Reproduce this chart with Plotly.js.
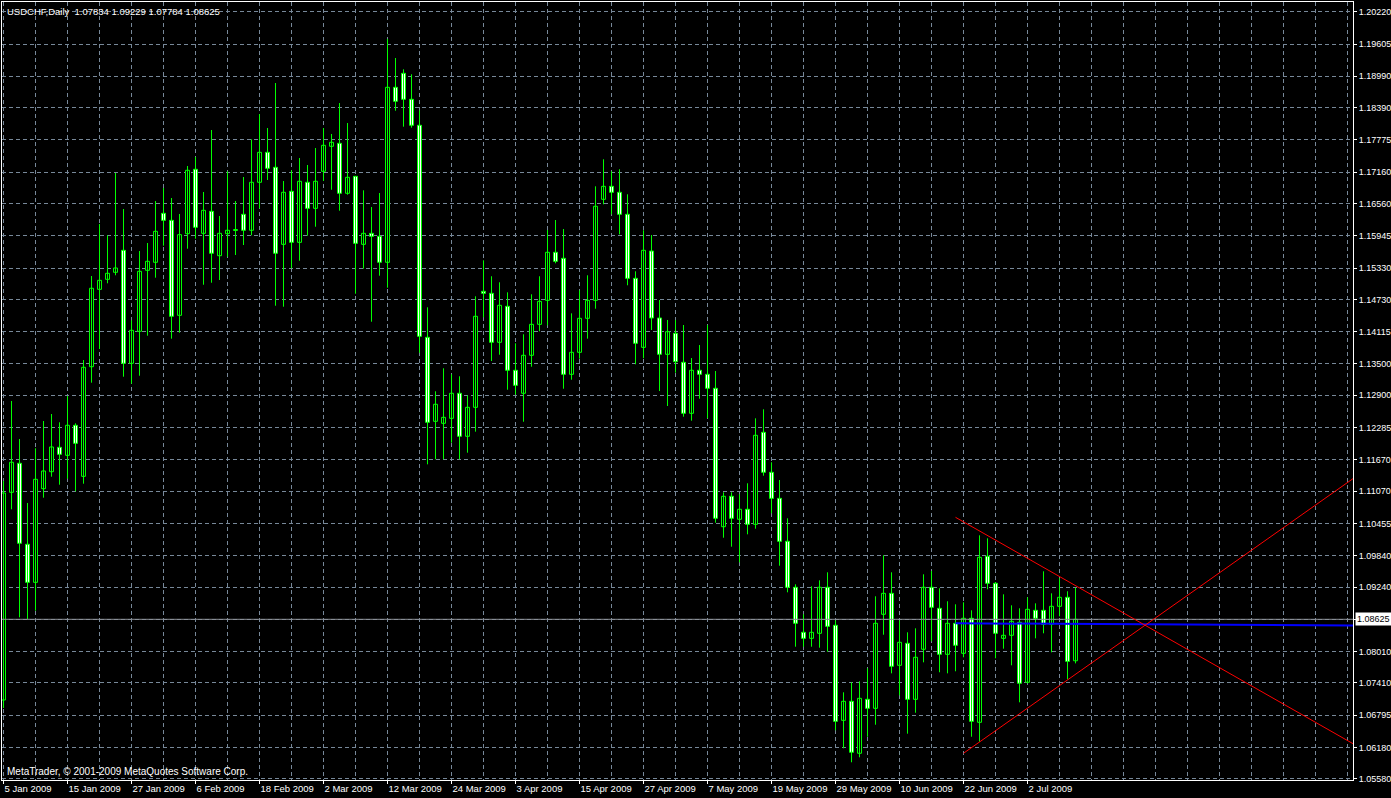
<!DOCTYPE html>
<html><head><meta charset="utf-8">
<script src="https://cdn.plot.ly/plotly-3.0.1.min.js"></script>
<style>html,body{margin:0;padding:0;background:#000;overflow:hidden}#chart{width:1391px;height:798px}</style>
</head><body><div id="chart"></div>
<script>
const symbolTitle = 'USDCHF,Daily \u00a01.07834 1.09229 1.07784 1.08625';
const copyright = 'MetaTrader, \u00a9 2001-2009 MetaQuotes Software Corp.';

const openP = [1.07085,1.11049,1.11603,1.10057,1.09331,1.11118,1.11442,1.11908,1.11755,1.12328,
1.11354,1.13446,1.14923,1.15114,1.15248,1.15668,1.13511,1.14122,1.15286,1.15439,
1.16374,1.16240,1.14427,1.15985,1.17214,1.15992,1.16412,1.15565,1.15985,1.16046,
1.16355,1.16050,1.16966,1.17538,1.17252,1.15782,1.16794,1.15820,1.16966,1.16469,
1.17176,1.17653,1.17710,1.16756,1.17080,1.15782,1.15992,1.15935,1.15439,1.18779,
1.19046,1.18550,1.18054,1.14007,1.12404,1.12366,1.12461,1.12939,1.12118,1.12671,
1.14885,1.14847,1.13912,1.14599,1.13378,1.12939,1.13664,1.14255,1.14713,1.15630,
1.15515,1.13301,1.13721,1.14370,1.14713,1.16641,1.16889,1.16775,1.16355,1.15133,
1.13816,1.15654,1.14376,1.13683,1.14084,1.13530,1.12557,1.13378,1.13301,1.13034,
1.10392,1.10973,1.10534,1.10725,1.10438,1.12194,1.11431,1.10934,1.10114,1.09236,
1.08377,1.08262,1.08358,1.09236,1.08511,1.06697,1.07060,1.06068,1.07098,1.06926,
1.08721,1.09121,1.07747,1.08167,1.07098,1.08053,1.09236,1.08835,1.07957,1.08549,
1.07976,1.08644,1.06659,1.09828,1.09312,1.08262,1.08320,1.08568,1.07423,1.08797,
1.08797,1.08530,1.08873,1.09045,1.07834];
const highP = [1.11265,1.12792,1.12066,1.10845,1.11889,1.12410,1.12543,1.12385,1.12887,1.12366,
1.13574,1.15177,1.16170,1.15954,1.17143,1.16456,1.14332,1.15654,1.15807,1.16609,
1.16857,1.16666,1.16361,1.17277,1.17449,1.16781,1.17964,1.16322,1.17176,1.16609,
1.17067,1.17786,1.18269,1.18002,1.18861,1.16990,1.17195,1.17429,1.17296,1.17620,
1.18002,1.17888,1.18479,1.18097,1.17086,1.16813,1.16494,1.16761,1.19701,1.19338,
1.19122,1.19027,1.18340,1.14580,1.12977,1.13416,1.13301,1.13263,1.12900,1.14790,
1.15477,1.15172,1.15057,1.14866,1.13893,1.14065,1.14828,1.15172,1.16055,1.16246,
1.16074,1.14465,1.14904,1.15191,1.16889,1.17405,1.17176,1.17214,1.16737,1.15267,
1.16050,1.15960,1.14719,1.14338,1.14338,1.14242,1.13612,1.13860,1.14242,1.13364,
1.11049,1.11049,1.11011,1.11221,1.12461,1.12633,1.11622,1.11284,1.10553,1.09293,
1.08721,1.09255,1.09369,1.09522,1.08606,1.07232,1.07423,1.07442,1.07690,1.09064,
1.09847,1.09522,1.08606,1.08377,1.08453,1.09484,1.09547,1.09217,1.08969,1.08911,
1.08950,1.08797,1.10228,1.10171,1.09337,1.09102,1.08892,1.08835,1.09045,1.08930,
1.09541,1.09121,1.09408,1.09160,1.09229];
const lowP = [1.06932,1.10725,1.08663,1.08625,1.08789,1.10946,1.11347,1.11194,1.11309,1.11068,
1.11213,1.13141,1.13784,1.15038,1.15191,1.13255,1.13122,1.13274,1.14038,1.15145,
1.15756,1.13981,1.14095,1.15698,1.15889,1.15011,1.15049,1.15101,1.15546,1.15578,
1.15769,1.15954,1.16469,1.17010,1.14610,1.14591,1.15324,1.15469,1.15946,1.16118,
1.16990,1.16824,1.16424,1.16729,1.14839,1.15317,1.14305,1.15183,1.14954,1.18332,
1.18027,1.18008,1.13713,1.11583,1.11679,1.11679,1.11996,1.11679,1.11805,1.12206,
1.14389,1.13555,1.13675,1.13007,1.12912,1.12396,1.13446,1.14122,1.14236,1.15420,
1.13026,1.13198,1.13599,1.13981,1.14553,1.16546,1.16355,1.15973,1.15000,1.13492,
1.13607,1.14147,1.12982,1.12696,1.13332,1.12492,1.12416,1.12835,1.12461,1.10469,
1.10182,1.10011,1.09713,1.10247,1.10354,1.11366,1.10648,1.09648,1.09140,1.08102,
1.08102,1.08102,1.08083,1.08007,1.06507,1.06163,1.05896,1.05991,1.06384,1.06613,
1.08331,1.07594,1.07175,1.06442,1.06842,1.07804,1.08205,1.07614,1.07594,1.07633,
1.07900,1.06384,1.06289,1.09198,1.07881,1.08064,1.07747,1.07041,1.07404,1.08262,
1.08358,1.07995,1.08682,1.07480,1.07784];
const closeP = [1.11036,1.11622,1.10076,1.09331,1.11297,1.11456,1.11914,1.11774,1.12328,1.11984,
1.13435,1.14943,1.15095,1.15229,1.15330,1.13511,1.14141,1.15267,1.15458,1.16030,
1.16240,1.14408,1.15966,1.17195,1.16107,1.16431,1.15611,1.15992,1.16050,1.16065,
1.16050,1.16966,1.17538,1.17233,1.15611,1.16775,1.15820,1.16985,1.16469,1.16985,
1.17672,1.17729,1.16756,1.17061,1.15801,1.15992,1.15935,1.15439,1.18779,1.18512,
1.18550,1.18054,1.14026,1.12385,1.12729,1.12480,1.12939,1.12118,1.12671,1.14408,
1.14847,1.13912,1.14618,1.13378,1.13091,1.13664,1.14255,1.14694,1.15630,1.15458,
1.13301,1.13721,1.14370,1.14713,1.16508,1.16889,1.16775,1.16355,1.15133,1.13893,
1.15668,1.14376,1.13683,1.14114,1.13542,1.12557,1.13378,1.13301,1.13034,1.10553,
1.10973,1.10553,1.10725,1.10438,1.12137,1.11431,1.10934,1.10114,1.09236,1.08549,
1.08262,1.08377,1.09236,1.08491,1.06678,1.07060,1.06087,1.07117,1.06926,1.08549,
1.09121,1.07728,1.08186,1.07098,1.07900,1.09236,1.08854,1.07957,1.08549,1.08129,
1.08644,1.06678,1.09808,1.09312,1.08358,1.08320,1.08587,1.07404,1.08816,1.08644,
1.08530,1.08873,1.09045,1.07823,1.08625];

const priceTickLabels = ['1.20220','1.19605','1.18990','1.18390','1.17775','1.17160','1.16560','1.15945',
'1.15330','1.14730','1.14115','1.13500','1.12900','1.12285','1.11670','1.11070','1.10455','1.09840',
'1.09240','1.08625','1.08010','1.07410','1.06795','1.06180','1.05580'];
const dateLabels = ['5 Jan 2009','15 Jan 2009','27 Jan 2009','6 Feb 2009','18 Feb 2009','2 Mar 2009',
'12 Mar 2009','24 Mar 2009','3 Apr 2009','15 Apr 2009','27 Apr 2009','7 May 2009','19 May 2009',
'29 May 2009','10 Jun 2009','22 Jun 2009','2 Jul 2009'];
const dateTickIdx = [0,8,16,24,32,40,48,56,64,72,80,88,96,104,112,120,128];

const bidPrice = 1.08625;
const redLineA = {idx:[119, 168.69], price:[1.10572, 1.06251]};
const redLineB = {idx:[120, 168.69], price:[1.06068, 1.11310]};
const blueLine = {idx:[119, 168.69], price:[1.08549, 1.08507]};

const GREEN = '#00ff00', GRID = '#778899';
const n = openP.length;
const wx = [], wy = [];
const bullX = [], bullB = [], bullH = [], bearX = [], bearB = [], bearH = [];
for (let i = 0; i < n; i++) {
  wx.push(i, i, null); wy.push(highP[i], lowP[i], null);
  const o = openP[i], c = closeP[i];
  if (c >= o) { bullX.push(i); bullB.push(o); bullH.push(Math.max(c - o, 0.00001)); }
  else { bearX.push(i); bearB.push(c); bearH.push(o - c); }
}

const traces = [
  {type:'scatter', mode:'lines', x:wx, y:wy, line:{color:GREEN, width:1}, hoverinfo:'skip'},
  {type:'bar', x:bullX, base:bullB, y:bullH, width:0.5, marker:{color:'#000', line:{color:GREEN, width:1}}, hoverinfo:'skip'},
  {type:'bar', x:bearX, base:bearB, y:bearH, width:0.5, marker:{color:'#fff', line:{color:GREEN, width:1}}, hoverinfo:'skip'}
];

const FONT = '"Liberation Sans",Arial,sans-serif';
const layout = {
  width:1391, height:798,
  margin:{l:2, r:38, t:2, b:18, pad:0},
  paper_bgcolor:'#000', plot_bgcolor:'#000',
  showlegend:false, barmode:'overlay', bargap:0,
  font:{family:FONT, size:9, color:'#fff'},
  xaxis:{
    range:[-0.1875, 168.6875], tickmode:'array', tickvals:dateTickIdx, ticktext:dateLabels,
    tickangle:0, tickfont:{family:FONT, size:9.5, color:'#fff'},
    ticks:'outside', ticklen:3, tickcolor:'#fff', ticklabelposition:'outside right',
    showgrid:false, zeroline:false, showline:true, linecolor:'#fff', linewidth:1, mirror:true,
    fixedrange:true, automargin:false,
    minor:{tickmode:'linear', tick0:0, dtick:4, showgrid:true, gridcolor:GRID, griddash:'4px,3px', gridwidth:1, ticks:''}
  },
  yaxis:{
    side:'right', range:[1.05558, 1.20407], tickmode:'array',
    tickvals:priceTickLabels.map(Number), ticktext:priceTickLabels,
    tickfont:{family:FONT, size:9, color:'#fff'},
    ticks:'outside', ticklen:3, tickcolor:'#fff',
    showgrid:true, gridcolor:GRID, griddash:'4px,3px', gridwidth:1,
    zeroline:false, showline:true, linecolor:'#fff', linewidth:1, mirror:true,
    fixedrange:true, automargin:false
  },
  shapes:[
    {type:'line', xref:'paper', yref:'y', x0:0, x1:1, y0:bidPrice, y1:bidPrice, line:{color:'#8c9096', width:1}, layer:'above'},
    {type:'line', xref:'x', yref:'y', x0:blueLine.idx[0], x1:blueLine.idx[1], y0:blueLine.price[0], y1:blueLine.price[1], line:{color:'#0000ff', width:2}, layer:'above'},
    {type:'line', xref:'x', yref:'y', x0:redLineA.idx[0], x1:redLineA.idx[1], y0:redLineA.price[0], y1:redLineA.price[1], line:{color:'#ff0000', width:1}, layer:'above'},
    {type:'line', xref:'x', yref:'y', x0:redLineB.idx[0], x1:redLineB.idx[1], y0:redLineB.price[0], y1:redLineB.price[1], line:{color:'#ff0000', width:1}, layer:'above'}
  ],
  annotations:[
    {xref:'paper', yref:'paper', x:0, y:1, xanchor:'left', yanchor:'top', xshift:3, yshift:-2, showarrow:false,
     text:symbolTitle, font:{family:FONT, size:9.5, color:'#fff'}},
    {xref:'paper', yref:'paper', x:0, y:0, xanchor:'left', yanchor:'bottom', xshift:3, yshift:1, showarrow:false,
     text:copyright, font:{family:FONT, size:10, color:'#fff'}},
    {xref:'paper', yref:'y', x:1, y:bidPrice, xanchor:'left', yanchor:'middle', xshift:2, showarrow:false,
     text:bidPrice.toFixed(5), bgcolor:'#ffffff', borderpad:1, width:34, align:'left',
     font:{family:FONT, size:9, color:'#000'}}
  ]
};

Plotly.newPlot('chart', traces, layout, {staticPlot:true, displayModeBar:false});
</script>
</body></html>
